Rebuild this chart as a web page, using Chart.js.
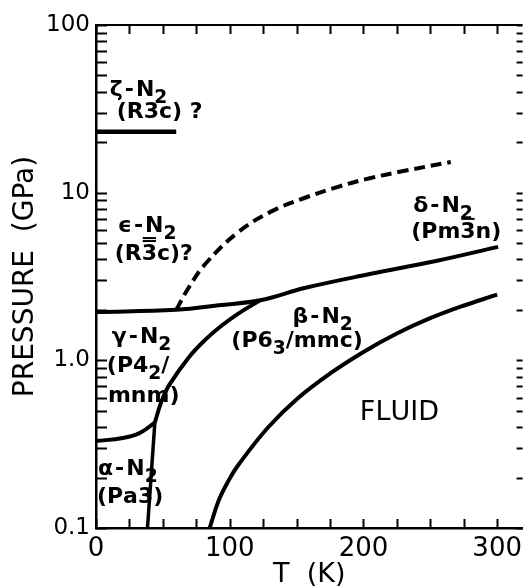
<!DOCTYPE html>
<html>
<head>
<meta charset="utf-8">
<title>Phase diagram of N2</title>
<script src="https://cdn.jsdelivr.net/npm/chart.js@4"></script>
<style>
  html, body { margin: 0; padding: 0; background: #fff; }
</style>
</head>
<body>
<canvas id="phaseChart" width="528" height="588"></canvas>
<script>
// Phase boundaries, temperature (K) and pressure (GPa)
const ZETA_T = [0, 60];
const ZETA_P = [23.1, 23.1];

const GAMMA_DELTA_T = [0, 60, 94, 122.7, 155.9, 204.7, 254.2, 300.7];
const GAMMA_DELTA_P = [1.94, 2.0, 2.14, 2.28, 2.70, 3.27, 3.91, 4.75];

const BETA_GAMMA_T = [44, 48.8, 54.7, 69.5, 82.0, 93.8, 106.4, 122.7];
const BETA_GAMMA_P = [0.425, 0.564, 0.711, 1.044, 1.333, 1.607, 1.90, 2.28];

const ALPHA_GAMMA_T = [0, 20, 32.5, 44];
const ALPHA_GAMMA_P = [0.330, 0.344, 0.368, 0.425];

const ALPHA_BETA_T = [38.5, 44];
const ALPHA_BETA_P = [0.1, 0.425];

const MELT_T = [85, 91.6, 99, 106.4, 128.6, 150.7, 175.1, 200.3, 224.6, 249, 274.1, 300];
const MELT_P = [0.1, 0.145, 0.191, 0.2375, 0.3975, 0.592, 0.835, 1.126, 1.441, 1.771, 2.109, 2.466];

const EPS_T = [59.9, 69.5, 82, 106.4, 130.8, 155.9, 180.3, 204.7, 229.8, 265.3];
const EPS_P = [1.996, 2.727, 3.779, 5.818, 7.709, 9.294, 10.80, 12.20, 13.45, 15.24];

// Axis ticks
const T_TICKS = [0, 25, 50, 75, 100, 125, 150, 175, 200, 225, 250, 275, 300];
const T_LABELED = [0, 100, 200, 300];
const P_TICKS = [0.1, 0.2, 0.3, 0.4, 0.5, 0.6, 0.7, 0.8, 0.9,
                 1, 2, 3, 4, 5, 6, 7, 8, 9,
                 10, 20, 30, 40, 50, 60, 70, 80, 90, 100];
const P_LABEL_VALUES = [0.1, 1, 10, 100];
const P_LABEL_TEXT = ['0.1', '1.0', '10', '100'];

// Region names: "_" = subscript next char, "~" = bar over next char, "^" = double bar
const PHASE_LABELS = [
  { text: 'ζ-N_2',      t: 10.3,  p: 37.7 },
  { text: '(R3c) ?',    t: 15.5,  p: 27.9 },
  { text: 'ϵ-N_2',      t: 16.3,  p: 5.83 },
  { text: '(R^3c)?',    t: 14,    p: 3.96 },
  { text: 'δ-N_2',      t: 237.2, p: 7.67 },
  { text: '(Pm~3n)',    t: 235.7, p: 5.37 },
  { text: 'γ-N_2',      t: 11.8,  p: 1.27 },
  { text: '(P4_2/',     t: 8.1,   p: 0.852 },
  { text: 'mnm)',       t: 8.9,   p: 0.564 },
  { text: 'α-N_2',      t: 1.5,   p: 0.207 },
  { text: '(Pa3)',      t: 0.7,   p: 0.141 },
  { text: 'β-N_2',      t: 147,   p: 1.67 },
  { text: '(P6_3/mmc)', t: 101.2, p: 1.20 },
  { text: 'FLUID',      t: 197.3, p: 0.44, size: 27, weight: 'normal' }
];

const pts = (ts, ps) => ts.map((t, i) => ({ x: t, y: ps[i] }));

function boundary(ts, ps, extra) {
  return Object.assign({
    data: pts(ts, ps),
    borderColor: '#000',
    borderWidth: 4,
    pointRadius: 0,
    fill: false,
    tension: 0.4
  }, extra || {});
}

function drawRich(ctx, text, px, py, size, weight) {
  ctx.save();
  ctx.translate(px, py);
  ctx.fillStyle = '#000';
  ctx.strokeStyle = '#000';
  ctx.lineWidth = 2;
  ctx.textBaseline = 'alphabetic';
  ctx.textAlign = 'left';
  let cx = 0;
  for (let i = 0; i < text.length; i++) {
    let ch = text[i], sub = false, bars = 0;
    if (ch === '_') { sub = true; ch = text[++i]; }
    else if (ch === '~') { bars = 1; ch = text[++i]; }
    else if (ch === '^') { bars = 2; ch = text[++i]; }
    const fs = sub ? size * 0.85 : size;
    ctx.font = `${weight} ${fs}px "DejaVu Sans"`;
    const pad = ch === '-' ? 2 : 0;
    cx += pad;
    const w = ctx.measureText(ch).width;
    ctx.fillText(ch, cx, sub ? size * 0.3 : 0);
    for (let b = 0; b < bars; b++) {
      const by = -size * 0.73 - 3 - b * 3;
      ctx.beginPath();
      ctx.moveTo(cx + 1, by);
      ctx.lineTo(cx + w - 1, by);
      ctx.stroke();
    }
    cx += w + pad;
  }
  ctx.restore();
}

// Frame on top and tick marks on all four sides, pointing inwards
const frameTicks = {
  id: 'frameTicks',
  afterDatasetsDraw(chart) {
    const { ctx, chartArea: a, scales: { x, y } } = chart;
    ctx.save();
    ctx.strokeStyle = '#000';
    ctx.lineWidth = 2;
    ctx.beginPath();
    ctx.moveTo(a.left, a.top);
    ctx.lineTo(a.right, a.top);
    T_TICKS.forEach(t => {
      const px = Math.round(x.getPixelForValue(t)) + 0.5;
      ctx.moveTo(px, a.bottom);
      ctx.lineTo(px, a.bottom - 9);
      ctx.moveTo(px, a.top);
      ctx.lineTo(px, a.top + 9);
    });
    P_TICKS.forEach(p => {
      const py = Math.round(y.getPixelForValue(p)) + 0.5;
      ctx.moveTo(a.left, py);
      ctx.lineTo(a.left + 11, py);
      ctx.moveTo(a.right, py);
      ctx.lineTo(a.right - 6, py);
    });
    ctx.stroke();
    ctx.restore();
  }
};

const phaseLabels = {
  id: 'phaseLabels',
  afterDatasetsDraw(chart) {
    const { ctx, scales: { x, y } } = chart;
    PHASE_LABELS.forEach(l => {
      drawRich(ctx, l.text, x.getPixelForValue(l.t), y.getPixelForValue(l.p),
               l.size || 22, l.weight || 'bold');
    });
  }
};

Chart.defaults.font.family = '"DejaVu Sans", sans-serif';
Chart.defaults.color = '#000';

new Chart(document.getElementById('phaseChart'), {
  type: 'line',
  data: {
    datasets: [
      boundary(ZETA_T, ZETA_P, { borderWidth: 4.5, tension: 0 }),
      boundary(GAMMA_DELTA_T, GAMMA_DELTA_P),
      boundary(BETA_GAMMA_T, BETA_GAMMA_P),
      boundary(ALPHA_GAMMA_T, ALPHA_GAMMA_P),
      boundary(ALPHA_BETA_T, ALPHA_BETA_P, { borderWidth: 3.5, tension: 0 }),
      boundary(MELT_T, MELT_P),
      boundary(EPS_T, EPS_P, { borderDash: [11, 6], borderCapStyle: 'butt' })
    ]
  },
  options: {
    responsive: false,
    animation: false,
    layout: { padding: { top: 25, right: 0, left: 0, bottom: 0 } },
    plugins: {
      legend: { display: false },
      tooltip: { enabled: false }
    },
    scales: {
      x: {
        type: 'linear',
        min: 0,
        max: 319,
        afterBuildTicks: s => { s.ticks = T_TICKS.map(v => ({ value: v })); },
        afterFit: s => { s.height = 60; },
        grid: { display: false, drawTicks: false },
        border: { display: true, color: '#000', width: 2.5 },
        ticks: {
          autoSkip: false,
          maxRotation: 0,
          padding: 6,
          font: { size: 26 },
          callback: v => T_LABELED.includes(v) ? String(v) : ''
        },
        title: {
          display: true,
          text: 'T  (K)',
          font: { size: 27, lineHeight: 1 },
          padding: { top: 0, bottom: 0 }
        }
      },
      y: {
        type: 'logarithmic',
        min: 0.1,
        max: 100,
        afterBuildTicks: s => { s.ticks = P_TICKS.map(v => ({ value: v })); },
        afterFit: s => { s.width = 96; },
        grid: { display: false, drawTicks: false },
        border: { display: true, color: '#000', width: 2.5 },
        ticks: {
          autoSkip: false,
          padding: 6,
          font: { size: 23 },
          callback: v => {
            const k = P_LABEL_VALUES.findIndex(lv => Math.abs(lv - v) < 1e-9);
            return k >= 0 ? P_LABEL_TEXT[k] : '';
          }
        },
        title: {
          display: true,
          text: 'PRESSURE  (GPa)',
          font: { size: 28, lineHeight: 1 },
          padding: { top: 12, bottom: 0 }
        }
      }
    }
  },
  plugins: [frameTicks, phaseLabels]
});
</script>
</body>
</html>
